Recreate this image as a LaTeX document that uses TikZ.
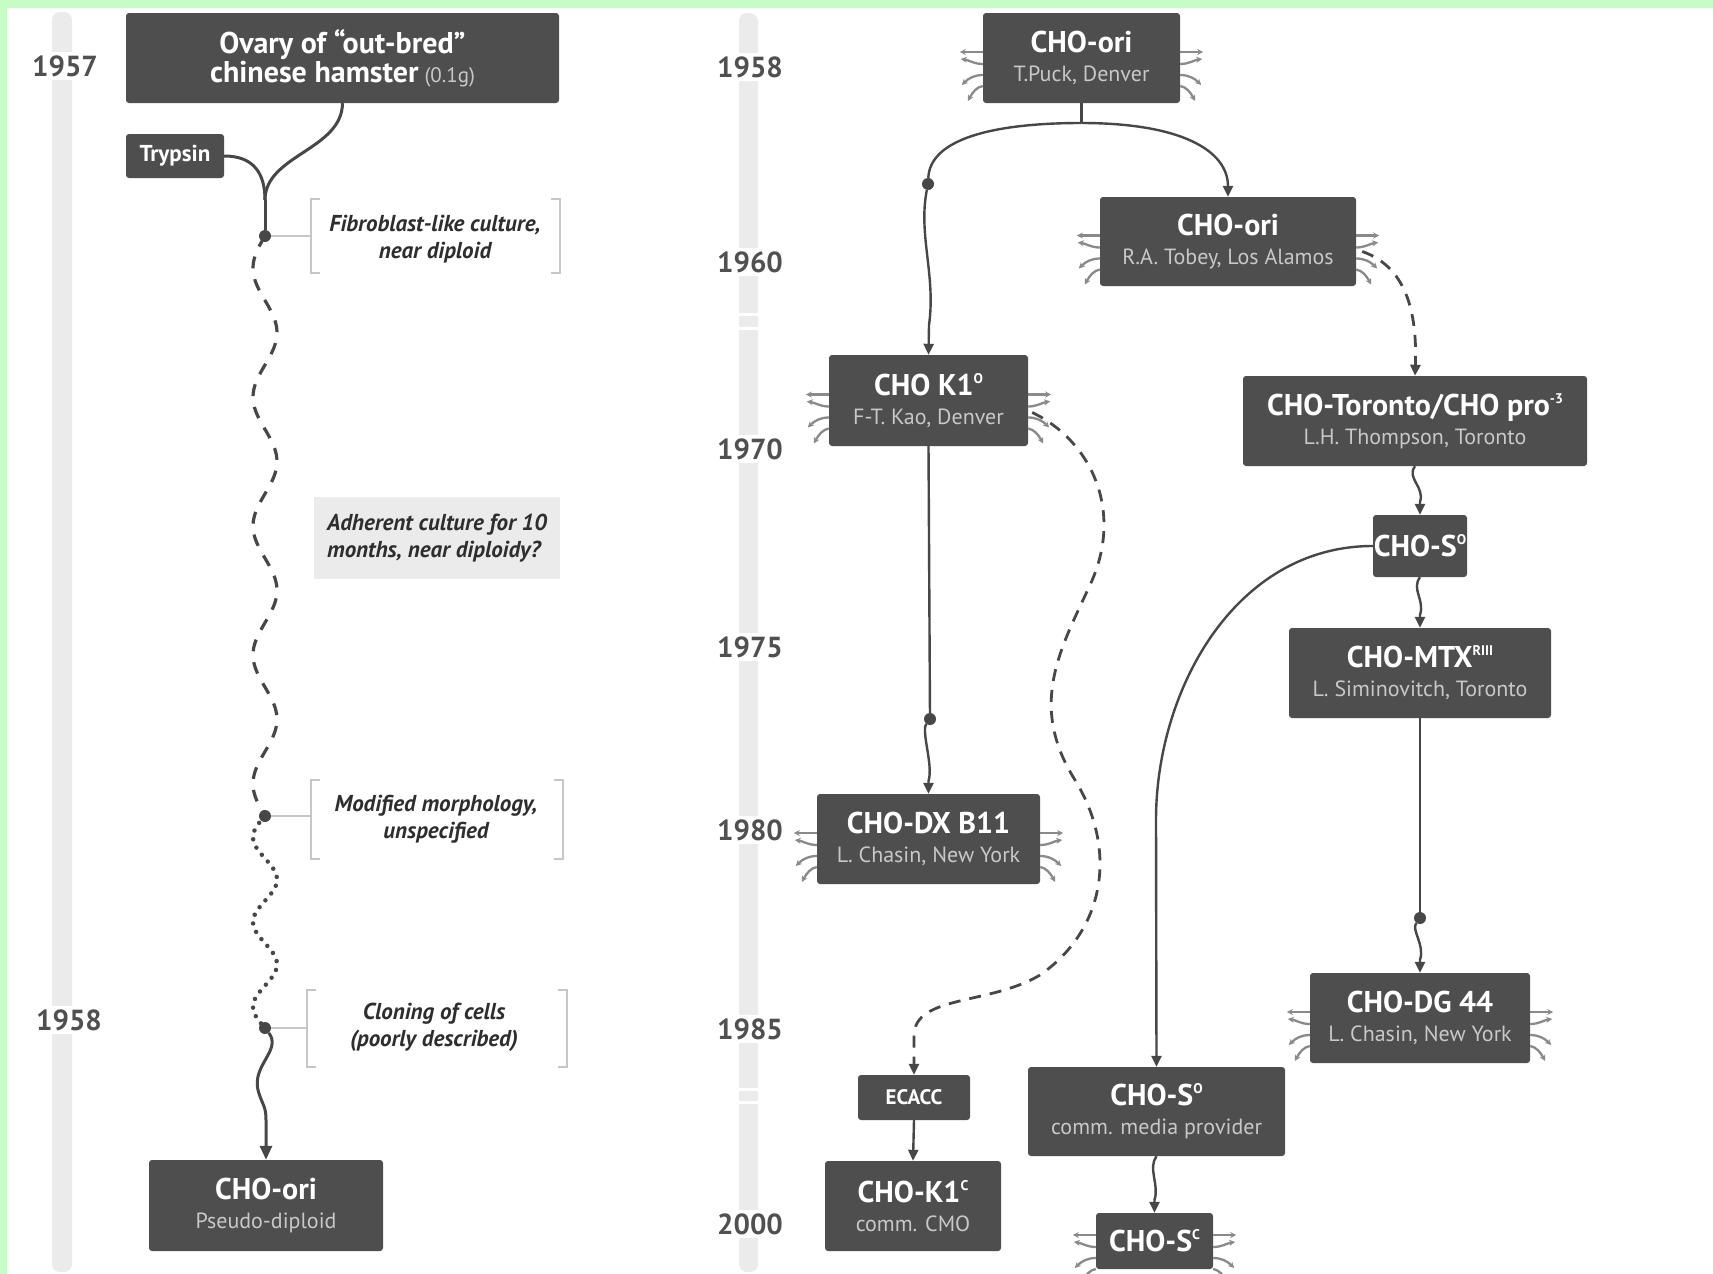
\documentclass[tikz,border=0pt]{standalone}
\usepackage{fontspec}
\setmainfont{PT Sans}
\usetikzlibrary{arrows.meta,calc}
\definecolor{boxc}{HTML}{4E4E4E}
\definecolor{linec}{HTML}{474747}
\definecolor{subc}{HTML}{C8C8C8}
\definecolor{wskc}{HTML}{8A8A8A}
\definecolor{yearc}{HTML}{505050}
\definecolor{barc}{HTML}{EBEBEB}
\definecolor{brkc}{HTML}{C6C6C6}
\definecolor{labc}{HTML}{2E2E2E}
\definecolor{adhc}{HTML}{EBEBEB}
\definecolor{greenc}{HTML}{C6FCC6}
\newcommand\ttl[1]{{\fontsize{30}{29}\selectfont\bfseries\color{white}#1}}
\newcommand\sbt[1]{{\fontsize{22}{29}\selectfont\color{subc}#1}}
\newcommand\sups[1]{\raisebox{12pt}{\fontsize{14}{14}\selectfont #1}}
\newcommand\whisk[1]{%
  \foreach \an/\sg in {west/-1,east/1}{%
    \draw[wsk] ($(#1.\an)+(0,-6)$) -- ($(#1.\an)+(\sg*23,-6)$);
    \draw[wsk] ($(#1.\an)+(0,6)$) .. controls ($(#1.\an)+(\sg*9,6)$) and ($(#1.\an)+(\sg*14,2)$) .. ($(#1.\an)+(\sg*22,1)$);
    \draw[wsk] ($(#1.\an)+(0,17)$) .. controls ($(#1.\an)+(\sg*8,17)$) and ($(#1.\an)+(\sg*14,20)$) .. ($(#1.\an)+(\sg*21,27)$);
    \draw[wsk] ($(#1.\an)+(0,28)$) .. controls ($(#1.\an)+(\sg*6,29)$) and ($(#1.\an)+(\sg*10,34)$) .. ($(#1.\an)+(\sg*15,43)$);
  }}
\newcommand\wig[2]{\draw[conn,arrt] (#1) .. controls ($(#1)+(-9,12)$) and ($(#2)+(5,-28)$) .. ($(#2)+(0,-13)$) -- (#2);}
\newcommand\brk[4]{%
  \draw[brkl] (#1+9,#3) -- (#1,#3) -- (#1,#4) -- (#1+9,#4);
  \draw[brkl] (#2-9,#3) -- (#2,#3) -- (#2,#4) -- (#2-9,#4);}
\begin{document}
\begin{tikzpicture}[x=1pt,y=-1pt,
  cbox/.style={fill=boxc, rounded corners=3pt, inner sep=0pt, align=center, text=white, font=\fontsize{22}{29}\selectfont},
  conn/.style={draw=linec, line width=2.4pt},
  lconn/.style={draw=linec, line width=3pt},
  arrt/.style={-{Triangle[length=11pt,width=10pt]}},
  larrt/.style={-{Triangle[length=14pt,width=12pt]}},
  dashc/.style={draw=linec, line width=2.8pt, dash pattern=on 12pt off 9pt},
  wsk/.style={draw=wskc, line width=2.3pt, -{Stealth[length=6pt,width=6pt]}},
  dotn/.style={circle, fill=linec, inner sep=0pt, minimum size=12pt},
  yr/.style={fill=white, inner sep=3pt, text=yearc, font=\fontsize{29}{29}\selectfont\bfseries},
  lab/.style={text=labc, align=center, font=\fontsize{23}{27}\selectfont\bfseries\itshape},
  brkl/.style={draw=brkc, line width=1.6pt},
]
\useasboundingbox (0,0) rectangle (1713,1274);
\clip (0,0) rectangle (1713,1274);
\fill[white] (0,0) rectangle (1713,1274);
\fill[greenc] (0,0) rectangle (1713,8);
\fill[greenc] (0,0) rectangle (7,1274);
% timeline bars
\fill[barc, rounded corners=8pt] (52,12) rectangle (72,1272);
\fill[barc, rounded corners=8pt] (739,13) rectangle (758,1272);
\draw[white, line width=3pt] (737,314) -- (760,314) (737,328) -- (760,328);
\draw[white, line width=3pt] (737,1089) -- (760,1089) (737,1102) -- (760,1102);
% years
\node[yr] (y57) at (65,66) {1957};
\node[yr] (y58l) at (69,1020) {1958};
\node[yr] (y58) at (750,67) {1958};
\node[yr] (y60) at (750,262) {1960};
\node[yr] (y70) at (750,449) {1970};
\node[yr] (y75) at (750,647) {1975};
\node[yr] (y80) at (750,830) {1980};
\node[yr] (y85) at (750,1029) {1985};
\node[yr] (y00) at (750,1224) {2000};
% ---------- left column
\node[cbox, minimum width=433pt, minimum height=90pt] (ovary) at (342.5,58)
  {\ttl{Ovary of “out-bred”}\\\ttl{chinese hamster} {\fontsize{21}{29}\selectfont\color{subc}(0.1g)}};
\node[cbox, minimum width=98pt, minimum height=44pt] (trypsin) at (175,156)
  {{\fontsize{23}{24}\selectfont\bfseries Trypsin}};
\node[cbox, minimum width=234pt, minimum height=91pt] (oriL) at (266,1205.5)
  {\ttl{CHO-ori}\\\sbt{Pseudo-diploid}};
\node[dotn] (ld1) at (265,236) {};
\node[dotn] (ld2) at (265,816) {};
\node[dotn] (ld3) at (265,1028) {};
\coordinate (J) at (265,200);
\draw[lconn] (ovary.south) .. controls (342,150) and (265,155) .. (J);
\draw[lconn] (trypsin.east) .. controls (255,156) and (265,175) .. (J);
\draw[lconn] (J) -- (ld1);
\draw[lconn, line width=3.2pt, dash pattern=on 12pt off 11pt] plot[domain=0:1,samples=200] ({265-12*sin(4.5*360*\x)},{236+580*\x});
\draw[lconn, line width=4.5pt, line cap=round, dash pattern=on 0pt off 9pt] plot[domain=0:1,samples=120] ({265-12*sin(2.5*360*\x)},{816+212*\x});
\draw[lconn,larrt] (ld3) .. controls (282,1050) and (252,1065) .. (258,1090) .. controls (262,1105) and (266,1105) .. (266,1120) -- (oriL.north);
% labels
\node[lab] (lab1) at (435,239) {Fibroblast-like culture,\\near diploid};
\brk{311}{560}{199}{273}
\draw[brkl] (ld1) -- (311,236);
\node[lab, fill=adhc, minimum width=246pt, minimum height=82pt, inner sep=0pt, align=left] (adh) at (437,538) {Adherent culture for 10\\months, near diploidy?};
\node[lab] (lab2) at (436,819) {Modified morphology,\\unspecified};
\brk{311}{563}{780}{859}
\draw[brkl] (ld2) -- (311,816);
\node[lab] (lab3) at (434,1027) {Cloning of cells\\(poorly described)};
\brk{307}{567}{990}{1067}
\draw[brkl] (ld3) -- (307,1028);
% ---------- right column
\node[cbox, minimum width=197pt, minimum height=90pt] (n1) at (1081.5,58) {\ttl{CHO-ori}\\\sbt{T.Puck, Denver}};
\node[cbox, minimum width=256pt, minimum height=89pt] (n2) at (1228,241.5) {\ttl{CHO-ori}\\\sbt{R.A. Tobey, Los Alamos}};
\node[cbox, minimum width=199pt, minimum height=91pt] (n3) at (928.5,400.5) {\ttl{CHO K1\sups{O}}\\\sbt{F-T. Kao, Denver}};
\node[cbox, minimum width=344pt, minimum height=90pt] (n4) at (1415,421) {\ttl{CHO-Toronto/CHO pro\sups{-3}}\\\sbt{L.H. Thompson, Toronto}};
\node[cbox, minimum width=94pt, minimum height=62pt] (n5) at (1420,546) {\ttl{CHO-S\sups{O}}};
\node[cbox, minimum width=262pt, minimum height=90pt] (n6) at (1420,673) {\ttl{CHO-MTX\sups{RIII}}\\\sbt{L. Siminovitch, Toronto}};
\node[cbox, minimum width=223pt, minimum height=90pt] (n7) at (928.5,839) {\ttl{CHO-DX B11}\\\sbt{L. Chasin, New York}};
\node[cbox, minimum width=220pt, minimum height=90pt] (n8) at (1420,1018) {\ttl{CHO-DG 44}\\\sbt{L. Chasin, New York}};
\node[cbox, minimum width=112pt, minimum height=45pt] (n9) at (914,1097.5) {{\fontsize{21}{22}\selectfont\bfseries ECACC}};
\node[cbox, minimum width=257pt, minimum height=89pt] (n10) at (1156.5,1111.5) {\ttl{CHO-S\sups{O}}\\\sbt{comm. media provider}};
\node[cbox, minimum width=176pt, minimum height=90pt] (n11) at (913,1206) {\ttl{CHO-K1\sups{C}}\\\sbt{comm. CMO}};
\node[cbox, minimum width=117pt, minimum height=56pt] (n12) at (1154.5,1241) {\ttl{CHO-S\sups{C}}};
\node[dotn] (rd1) at (928,184) {};
\node[dotn] (rd2) at (930,719) {};
\node[dotn] (rd3) at (1420,918) {};
\coordinate (s1) at (1081.5,123);
\draw[conn] (n1.south) -- (s1);
\draw[conn,arrt] (s1) .. controls (1180,123) and (1228,150) .. (n2.north);
\draw[conn] (s1) .. controls (990,123) and (930,140) .. (rd1);
\draw[conn,arrt] (rd1) .. controls (918,235) and (936,275) .. (929,325) -- (n3.north);
\draw[conn] (n3.south) -- (rd2);
\wig{rd2}{n7.north}
\draw[dashc,arrt] ($(n3.east)+(4,12)$) .. controls (1090,440) and (1125,510) .. (1090,585)
  .. controls (1060,650) and (1028,705) .. (1075,780)
  .. controls (1118,850) and (1105,930) .. (1040,975)
  .. controls (990,1005) and (915,995) .. (914,1035) -- (n9.north);
\draw[dashc,arrt] ($(n2.east)+(6,10)$) .. controls (1410,268) and (1417,320) .. (n4.north);
\wig{n4.south}{n5.north}
\wig{n5.south}{n6.north}
\draw[conn] (n6.south) -- (rd3);
\wig{rd3}{n8.north}
\draw[conn,arrt] (n5.west) .. controls (1235,546) and (1156,690) .. (1156,820) -- (n10.north);
\draw[conn,arrt] (n9.south) -- (n11.north);
\wig{n10.south}{n12.north}
\whisk{n1}
\whisk{n2}
\whisk{n3}
\whisk{n7}
\whisk{n8}
\whisk{n12}
\end{tikzpicture}
\end{document}
